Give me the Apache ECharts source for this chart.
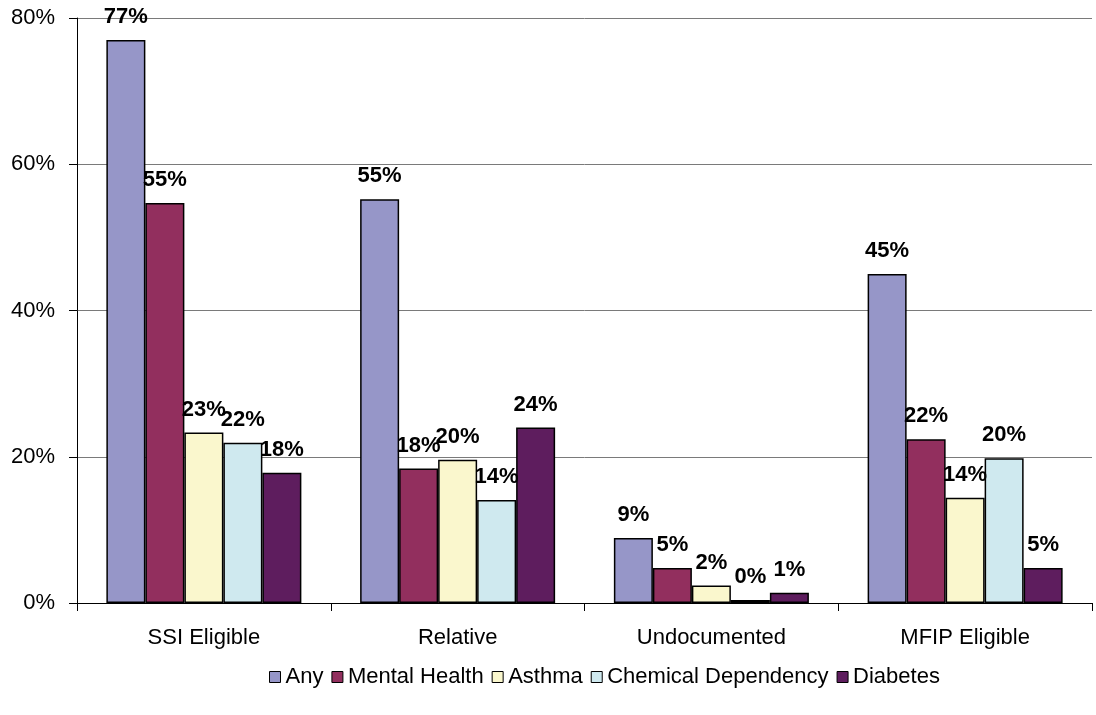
<!DOCTYPE html>
<html>
<head>
<meta charset="utf-8">
<script src="https://cdn.jsdelivr.net/npm/echarts@6/dist/echarts.min.js"></script>
<style>
  html, body { margin: 0; padding: 0; background: #fff; }
  #chart { width: 1096px; height: 715px; }
</style>
</head>
<body>
<div id="chart"></div>
<script>
// Share of each group with the condition (percent)
const categories = ['SSI Eligible', 'Relative', 'Undocumented', 'MFIP Eligible'];
const seriesNames = ['Any', 'Mental Health', 'Asthma', 'Chemical Dependency', 'Diabetes'];
const anyVals = [77.0, 55.2, 8.9, 45.0];
const mentalHealthVals = [54.7, 18.4, 4.8, 22.4];
const asthmaVals = [23.3, 19.6, 2.4, 14.4];
const chemDepVals = [21.9, 14.1, 0.4, 19.8];
const diabetesVals = [17.8, 24.0, 1.4, 4.8];
const yTicks = [0, 20, 40, 60, 80];

const colors = ['#9696C8', '#922F5E', '#FAF7CD', '#CFE9EF', '#5E1D5E'];
const valueSets = [anyVals, mentalHealthVals, asthmaVals, chemDepVals, diabetesVals];
const fontFamily = 'Arial, "Liberation Sans", sans-serif';
const fontSize = 22;

const chart = echarts.init(document.getElementById('chart'));
chart.setOption({
  animation: false,
  color: colors,
  textStyle: { fontFamily: fontFamily },
  grid: { left: 77, right: 4, top: 18, bottom: 112, containLabel: false },
  legend: {
    bottom: 22,
    left: 264,
    itemWidth: 11,
    itemHeight: 11,
    itemGap: 8,
    icon: 'rect',
    textStyle: { fontSize: fontSize, color: '#000', fontFamily: fontFamily },
    data: seriesNames.map(n => ({ name: n, itemStyle: { borderColor: '#000', borderWidth: 1 } }))
  },
  xAxis: {
    type: 'category',
    data: categories,
    axisLine: { lineStyle: { color: '#000', width: 1 } },
    axisTick: { show: true, length: 8, lineStyle: { color: '#000' } },
    axisLabel: { fontSize: fontSize, color: '#000', margin: 24, fontFamily: fontFamily }
  },
  yAxis: {
    type: 'value',
    min: yTicks[0],
    max: yTicks[yTicks.length - 1],
    interval: 20,
    axisLine: { show: true, lineStyle: { color: '#000', width: 1 } },
    axisTick: { show: true, length: 8, lineStyle: { color: '#000' } },
    axisLabel: { fontSize: fontSize, color: '#000', margin: 22, formatter: v => v + '%', fontFamily: fontFamily },
    splitLine: { show: true, lineStyle: { color: '#7a7a7a', width: 1 } }
  },
  series: seriesNames.map((name, i) => ({
    name: name,
    type: 'bar',
    data: valueSets[i],
    barWidth: 39,
    barGap: '0%',
    itemStyle: { color: colors[i], borderColor: '#000', borderWidth: 1.5 },
    label: {
      show: true,
      position: 'top',
      distance: 12,
      fontSize: fontSize,
      fontWeight: 'bold',
      color: '#000',
      fontFamily: fontFamily,
      formatter: p => Math.round(p.value) + '%'
    }
  }))
});
</script>
</body>
</html>
